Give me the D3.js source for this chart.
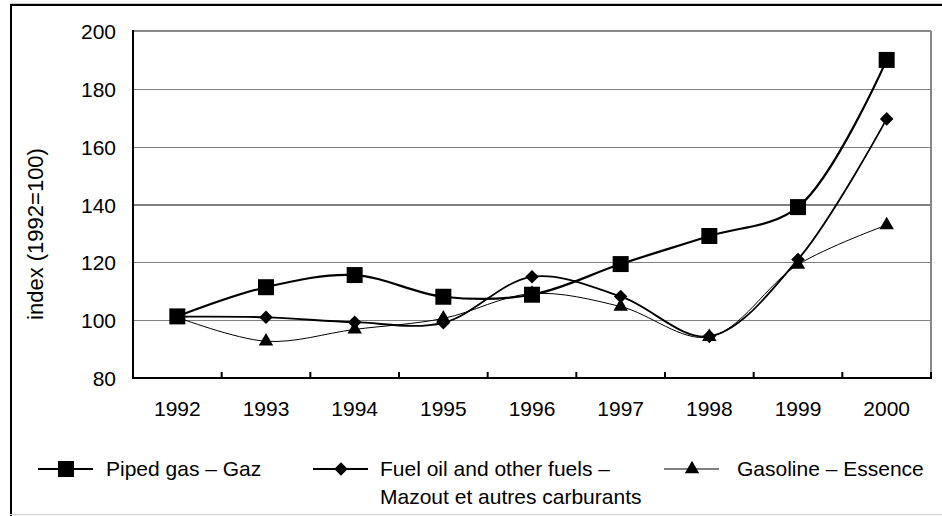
<!DOCTYPE html>
<html>
<head>
<meta charset="utf-8">
<script src="https://cdn.jsdelivr.net/npm/d3@7"></script>
<style>
  body { margin: 0; background: #fff; }
  svg { display: block; font-family: "Liberation Sans", Arial, sans-serif; }
</style>
</head>
<body>
<div id="chartTarget"></div>
<script>
const years = ['1992', '1993', '1994', '1995', '1996', '1997', '1998', '1999', '2000'];
const pipedGas = [101.3, 111.4, 115.6, 108.1, 108.8, 119.4, 129.1, 139.1, 190.0];
const fuelOil = [101.2, 101.0, 99.3, 99.1, 115.0, 108.2, 94.4, 121.0, 169.6];
const gasoline = [101.0, 92.7, 96.8, 100.6, 109.2, 104.7, 94.2, 119.2, 132.9];
const yTicks = [80, 100, 120, 140, 160, 180, 200];

const series = [
  { name: ['Piped gas – Gaz'], values: pipedGas, symbol: d3.symbolSquare, size: 256, rotate: 0, width: 2.2 },
  { name: ['Fuel oil and other fuels –', 'Mazout et autres carburants'], values: fuelOil, symbol: d3.symbolSquare, size: 92, rotate: 45, width: 1.8 },
  { name: ['Gasoline – Essence'], values: gasoline, symbol: d3.symbolTriangle, size: 90, rotate: 0, width: 1 }
];

const W = 942, H = 516;
const plot = { left: 133, right: 931, top: 31, bottom: 378 };

const svg = d3.select('#chartTarget').append('svg')
  .attr('width', W)
  .attr('height', H);

// outer frame
svg.append('line').attr('x1', 10).attr('x2', W).attr('y1', 3.5).attr('y2', 3.5)
  .attr('stroke', '#ccc').attr('stroke-width', 1);
svg.append('line').attr('x1', 10).attr('x2', W).attr('y1', 5).attr('y2', 5)
  .attr('stroke', '#000').attr('stroke-width', 2);
svg.append('line').attr('x1', 11).attr('x2', 11).attr('y1', 4).attr('y2', H)
  .attr('stroke', '#000').attr('stroke-width', 2);
svg.append('line').attr('x1', 10).attr('x2', W).attr('y1', 514.5).attr('y2', 514.5)
  .attr('stroke', '#d0d0d0').attr('stroke-width', 1);

let x = d3.scaleBand()
  .domain(years)
  .range([plot.left, plot.right])
  .padding(0);

let y = d3.scaleLinear()
  .domain([80, 200])
  .range([plot.bottom, plot.top]);

const cx = d => x(d) + x.bandwidth() / 2;

// gridlines
svg.append('g')
  .attr('class', 'grid')
  .attr('transform', `translate(${plot.left},0)`)
  .call(d3.axisLeft(y).tickValues(yTicks.slice(1)).tickSize(-(plot.right - plot.left)).tickFormat(''))
  .call(g => g.select('.domain').remove())
  .call(g => g.selectAll('line').attr('stroke', '#808080').attr('stroke-width', 1.2).style('shape-rendering', 'crispEdges'));

// top and right border of plot area
svg.append('line').attr('x1', plot.left).attr('x2', plot.right).attr('y1', plot.top).attr('y2', plot.top)
  .attr('stroke', '#888').attr('stroke-width', 2);
svg.append('line').attr('x1', plot.right).attr('x2', plot.right).attr('y1', plot.top).attr('y2', plot.bottom)
  .attr('stroke', '#888').attr('stroke-width', 2);

// y axis labels
svg.append('g')
  .attr('class', 'y axis')
  .attr('transform', `translate(${plot.left},0)`)
  .call(d3.axisLeft(y).tickValues(yTicks).tickSize(0).tickPadding(17))
  .call(g => g.select('.domain').remove())
  .call(g => g.selectAll('text').attr('font-size', 21).attr('fill', '#000')
    .attr('font-family', '"Liberation Sans", Arial, sans-serif').attr('dy', '0.36em'));

// x axis labels
svg.append('g')
  .attr('class', 'x axis')
  .attr('transform', `translate(0,${plot.bottom})`)
  .call(d3.axisBottom(x).tickSize(0).tickPadding(25))
  .call(g => g.select('.domain').remove())
  .call(g => g.selectAll('text').attr('font-size', 21).attr('fill', '#000')
    .attr('font-family', '"Liberation Sans", Arial, sans-serif').attr('dy', '0.6em'));

// ticks between categories (pointing inside)
const edges = years.map(d => x(d)).concat([x.range()[1]]);
svg.append('g').selectAll('line')
  .data(edges.slice(1))
  .enter().append('line')
    .attr('x1', d => d).attr('x2', d => d)
    .attr('y1', plot.bottom).attr('y2', plot.bottom - 6)
    .attr('stroke', '#000').attr('stroke-width', 2);

// axis lines
svg.append('line').attr('x1', plot.left).attr('x2', plot.left).attr('y1', plot.top - 1).attr('y2', plot.bottom + 1)
  .attr('stroke', '#000').attr('stroke-width', 2);
svg.append('line').attr('x1', plot.left - 1).attr('x2', plot.right + 1).attr('y1', plot.bottom).attr('y2', plot.bottom)
  .attr('stroke', '#000').attr('stroke-width', 2);

// y axis title
svg.append('text')
  .attr('transform', `translate(43, 234) rotate(-90)`)
  .attr('text-anchor', 'middle')
  .attr('font-size', 22)
  .text('index (1992=100)');

// lines
const line = d3.line()
  .x((d, i) => cx(years[i]))
  .y(d => y(d))
  .curve(d3.curveCatmullRom.alpha(0.5));

series.forEach(s => {
  svg.append('path')
    .datum(s.values)
    .attr('d', line)
    .attr('fill', 'none')
    .attr('stroke', '#000')
    .attr('stroke-width', s.width);
});

series.forEach(s => {
  svg.append('g').selectAll('path')
    .data(s.values)
    .enter().append('path')
      .attr('transform', (d, i) => `translate(${cx(years[i])},${y(d)}) rotate(${s.rotate})`)
      .attr('d', d3.symbol().type(s.symbol).size(s.size))
      .attr('fill', '#000');
});

// legend
const legendX = [38, 313, 664];
const textX = [68, 67, 73];
const legendY = 469;
series.forEach((s, i) => {
  const g = svg.append('g').attr('transform', `translate(${legendX[i]},${legendY})`);
  g.append('line').attr('x1', 0).attr('x2', 55).attr('y1', 0).attr('y2', 0)
    .attr('stroke', '#000').attr('stroke-width', s.width);
  g.append('path')
    .attr('transform', `translate(28,0) rotate(${s.rotate})`)
    .attr('d', d3.symbol().type(s.symbol).size(s.size))
    .attr('fill', '#000');
  const t = g.append('text')
    .attr('x', textX[i])
    .attr('y', 7)
    .attr('font-size', 21);
  s.name.forEach((n, k) => {
    t.append('tspan')
      .attr('x', textX[i])
      .attr('dy', k === 0 ? 0 : 28)
      .text(n);
  });
});
</script>
</body>
</html>
